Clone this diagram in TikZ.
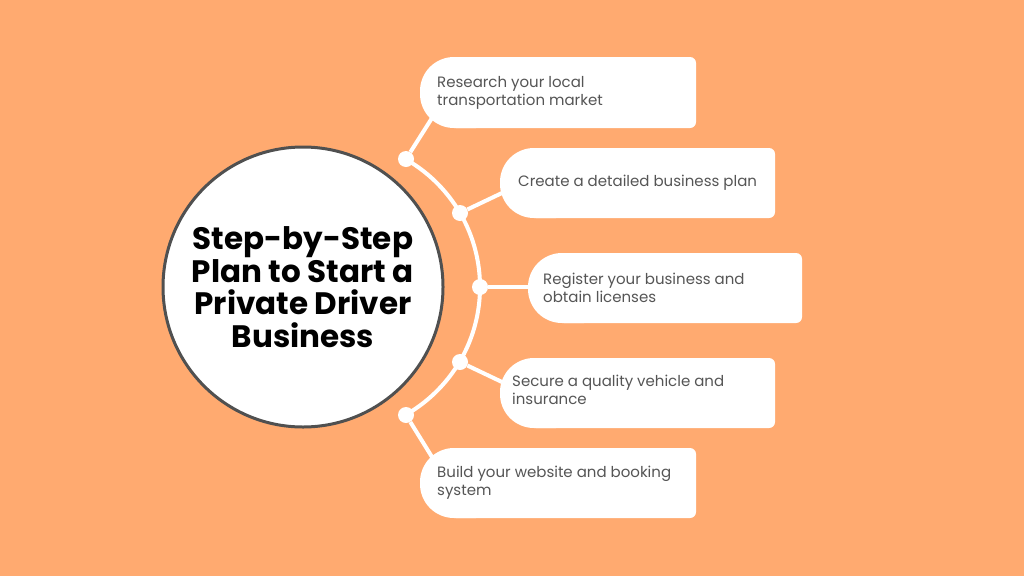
\documentclass[tikz,border=0pt]{standalone}
\usepackage{fontspec}
\setmainfont{Poppins}
\definecolor{bg_orange}{RGB}{255, 170, 112}
\definecolor{txt_gray}{RGB}{85, 85, 85}
\definecolor{ring_gray}{RGB}{80, 80, 80}
\tikzstyle{stepnode}=[anchor=west,align=left,text=txt_gray,font=\fontsize{15}{18}\selectfont,inner sep=0pt]
\tikzstyle{dot}=[circle,fill=white,inner sep=0pt,minimum size=16pt]
\tikzstyle{link}=[white,line width=4pt]
% box: left x, top y, right x, bottom y
\newcommand{\stepbox}[4]{
  \fill[white,rounded corners=6pt] (#1+30,#2) rectangle (#3,#4);
  \fill[white,rounded corners=34pt] (#1,#2) rectangle (#1+90,#4);
}
\begin{document}
\begin{tikzpicture}[x=1pt,y=-1pt]
  \fill[bg_orange] (0,0) rectangle (1024,576);
  \useasboundingbox (0,0) rectangle (1024,576);
  \begin{scope}
    \clip (406,100) rectangle (520,470);
    \draw[white,line width=4pt] (333,287) circle[radius=147];
  \end{scope}
  \node [dot] (d1) at (406,159) {};
  \node [dot] (d2) at (460,213) {};
  \node [dot] (d3) at (480,287) {};
  \node [dot] (d4) at (460,362) {};
  \node [dot] (d5) at (406,415) {};
  \stepbox{420}{57}{696}{128}
  \stepbox{500}{148}{775}{218}
  \stepbox{528}{253}{802}{323}
  \stepbox{500}{358}{775}{428}
  \stepbox{420}{448}{696}{518}
  \coordinate (c1) at (432,118);
  \coordinate (c2) at (502,193);
  \coordinate (c3) at (530,287);
  \coordinate (c4) at (502,382);
  \coordinate (c5) at (432,457);
  \draw [link] (d1) -- (c1);
  \draw [link] (d2) -- (c2);
  \draw [link] (d3) -- (c3);
  \draw [link] (d4) -- (c4);
  \draw [link] (d5) -- (c5);
  \node [circle,fill=white,draw=ring_gray,line width=3pt,minimum size=280pt,inner sep=0pt] (hub) at (303,287) {};
  \node [align=center,font=\fontsize{31}{32.5}\selectfont\bfseries] (title) at (hub) {Step-by-Step\\Plan to Start a\\Private Driver\\Business};
  \node [stepnode] (s1) at (437,93) {Research your local\\transportation market};
  \node [stepnode] (s2) at (518,183) {Create a detailed business plan};
  \node [stepnode] (s3) at (543,288) {Register your business and\\obtain licenses};
  \node [stepnode] (s4) at (512,390) {Secure a quality vehicle and\\insurance};
  \node [stepnode] (s5) at (437,483) {Build your website and booking\\system};
\end{tikzpicture}
\end{document}
